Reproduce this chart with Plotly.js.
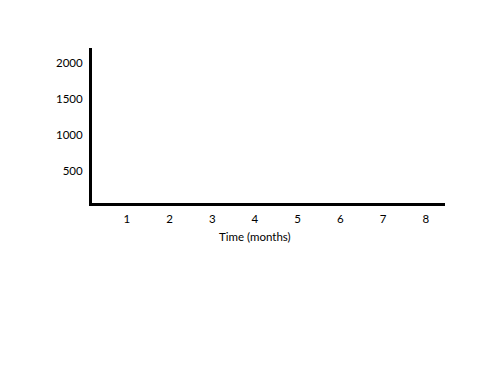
<!DOCTYPE html>
<html>
<head>
<meta charset="utf-8">
<script src="https://cdn.plot.ly/plotly-3.0.1.min.js"></script>
<style>html,body{margin:0;padding:0;background:#fff;}#chart{width:500px;height:386px;}</style>
</head>
<body>
<div id="chart"></div>
<script>
const monthTicks = [1, 2, 3, 4, 5, 6, 7, 8];
const monthLabels = ["1", "2", "3", "4", "5", "6", "7", "8"];
const valueTicks = [500, 1000, 1500, 2000];
const valueLabels = ["500", "1000", "1500", "2000"];
const xTitle = "Time (months)";

const fontFam = "Lato, Open Sans, sans-serif";
const layout = {
  width: 500, height: 386,
  paper_bgcolor: "#fff", plot_bgcolor: "#fff",
  margin: {l: 92, r: 55, t: 48, b: 183},
  showlegend: false,
  font: {family: fontFam, size: 11.5, color: "#000"},
  xaxis: {
    range: [0.185, 8.45],
    tickvals: monthTicks, ticktext: monthLabels,
    showgrid: false, zeroline: false,
    showline: true, linecolor: "#000", linewidth: 3,
    ticks: "", ticklabelstandoff: 3,
    fixedrange: true
  },
  yaxis: {
    range: [59, 2200],
    tickvals: valueTicks, ticktext: valueLabels,
    showgrid: false, zeroline: false,
    showline: true, linecolor: "#000", linewidth: 3,
    ticks: "", ticklabelstandoff: 4,
    fixedrange: true
  },
  annotations: [{
    text: xTitle, xref: "paper", yref: "paper",
    x: 0.462, y: 0, xanchor: "center", yanchor: "middle",
    yshift: -33, showarrow: false,
    font: {family: fontFam, size: 11.5, color: "#000"}
  }]
};
Plotly.newPlot("chart", [{x: [], y: [], type: "scatter", mode: "lines"}], layout, {displayModeBar: false, staticPlot: true});
</script>
</body>
</html>
